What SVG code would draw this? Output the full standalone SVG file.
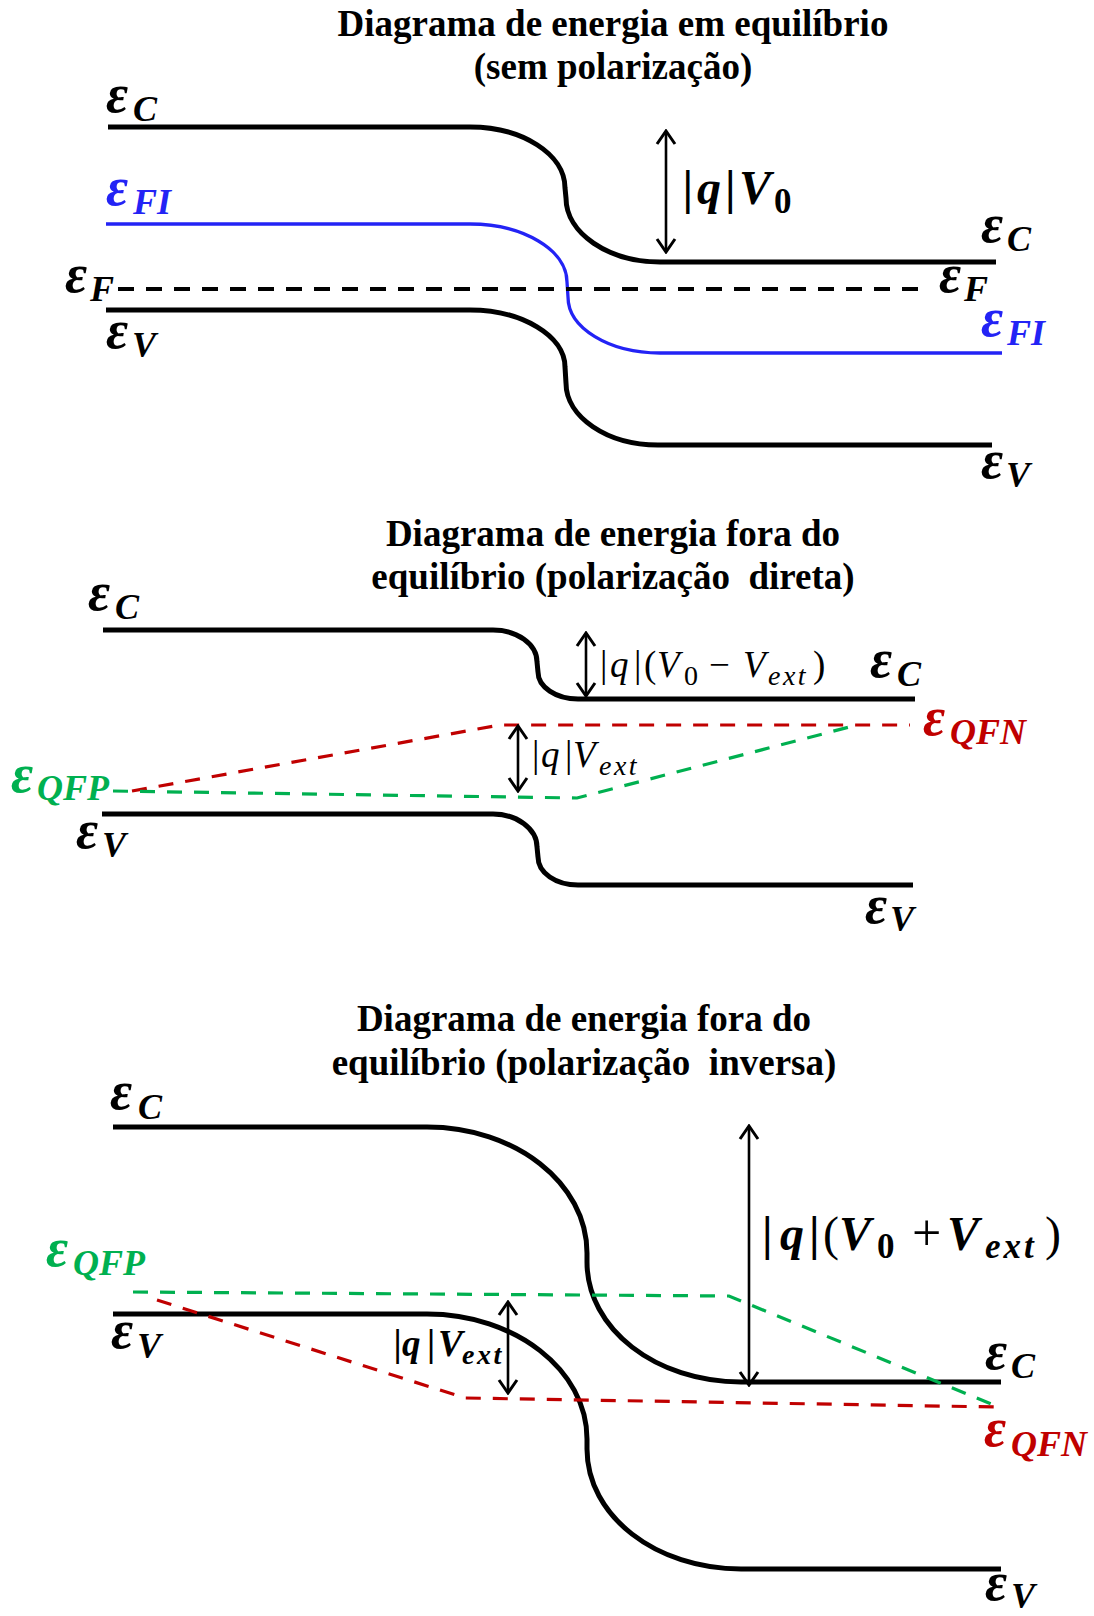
<svg xmlns="http://www.w3.org/2000/svg" width="1094" height="1616" viewBox="0 0 1094 1616">
<style>
.title{font-family:"Liberation Serif","Times New Roman",serif;font-weight:bold;font-size:37px;text-anchor:middle;fill:#000;white-space:pre}
.lab{font-family:"Liberation Serif","Times New Roman",serif;font-weight:bold;font-style:italic;font-size:54px;fill:#000}
.sub{font-size:36px}
.m{font-family:"Liberation Serif","Times New Roman",serif;font-style:italic;fill:#000}
.b{font-weight:bold}
.up{font-style:normal}
.rg{font-weight:normal}
.band{fill:none;stroke:#000;stroke-width:5}
.fi{fill:none;stroke:#2323f5;stroke-width:3.3}
.ef{fill:none;stroke:#000;stroke-width:4;stroke-dasharray:16 12}
.qfn{fill:none;stroke:#c00000;stroke-width:3.2;stroke-dasharray:15 12}
.qfp{fill:none;stroke:#00b050;stroke-width:3.2;stroke-dasharray:15 12}
.arr{fill:none;stroke:#000;stroke-width:2.6;marker-start:url(#ah);marker-end:url(#ah)}
.blue{fill:#2323f5}
.red{fill:#c00000}
.green{fill:#00b050}
</style>
<defs>
<marker id="ah" viewBox="-16 -11 18 22" markerWidth="18" markerHeight="22" refX="0" refY="0" orient="auto-start-reverse" markerUnits="userSpaceOnUse">
<path d="M-13,-9 L0,0 L-13,9" fill="none" stroke="#000" stroke-width="3" stroke-linejoin="miter"/>
</marker>
</defs>

<g id="panel1">
<g id="title1">
<text class="title" x="613" y="36">Diagrama de energia em equilíbrio</text>
<text class="title" x="613" y="79">(sem polarização)</text>
</g>
<g id="bands1">
<path id="ec1" class="band" d="M108,127 H470 C522,127 565,154 565,188 L566,198 C566,233 608,262 660,262 H996"/>
<path id="efi1" class="fi" d="M106,224 H470 C523,224 567,250 567,282 L568,297 C568,328 609,353 660,353 H1002"/>
<path id="ef1" class="ef" d="M118,289 H929"/>
<path id="ev1" class="band" d="M106,310 H470 C522,310 565,336 565,367 L566,383 C566,417 607,445 658,445 H992"/>
<path id="arr1" class="arr" d="M666,131 V252"/>
</g>
<g id="labels1">
<text class="lab" x="106" y="112">ε<tspan class="sub" x="133" y="121">C</tspan></text>
<text class="lab blue" x="106" y="205">ε<tspan class="sub" x="133" y="214">FI</tspan></text>
<text class="lab" x="65" y="292">ε<tspan class="sub" x="90" y="301">F</tspan></text>
<text class="lab" x="106" y="348">ε<tspan class="sub" x="132" y="357">V</tspan></text>
<text class="lab" x="981" y="242">ε<tspan class="sub" x="1007" y="251">C</tspan></text>
<text class="lab" x="939" y="292">ε<tspan class="sub" x="964" y="301">F</tspan></text>
<text class="lab blue" x="981" y="336">ε<tspan class="sub" x="1007" y="345">FI</tspan></text>
<text class="lab" x="981" y="478">ε<tspan class="sub" x="1006" y="487">V</tspan></text>
<text class="m b" font-size="48"><tspan class="up" x="682.5" y="204">|</tspan><tspan x="697" y="204">q</tspan><tspan class="up" x="725" y="204">|</tspan><tspan x="739" y="204">V</tspan><tspan class="up" x="774" y="213" font-size="35">0</tspan></text>
</g>
</g>

<g id="panel2">
<g id="title2">
<text class="title" x="613" y="546">Diagrama de energia fora do</text>
<text class="title" x="613" y="589" xml:space="preserve">equilíbrio (polarização  direta)</text>
</g>
<g id="bands2">
<path id="ec2" class="band" d="M103,630 H493 C517,630 537,644 537,662 L538,672 C538,687 556,699 578,699 H915"/>
<path id="ev2" class="band" d="M102,814 H493 C517,814 537,829 537,847 L538,857 C538,873 556,885 578,885 H913"/>
<path id="qfn2" class="qfn" d="M132,791 L500,725 H910"/>
<path id="qfp2" class="qfp" d="M113,791 L577,798 L857,725"/>
<path id="arr2a" class="arr" d="M586,633 V696"/>
<path id="arr2b" class="arr" d="M518,726 V791"/>
</g>
<g id="labels2">
<text class="lab" x="88" y="610">ε<tspan class="sub" x="115" y="619">C</tspan></text>
<text class="lab green" x="11" y="792">ε<tspan class="sub" x="37" y="800">QFP</tspan></text>
<text class="lab" x="76" y="848">ε<tspan class="sub" x="102" y="857">V</tspan></text>
<text class="lab" x="870" y="677">ε<tspan class="sub" x="897" y="686">C</tspan></text>
<text class="lab red" x="923" y="735">ε<tspan class="sub" x="950" y="744">QFN</tspan></text>
<text class="lab" x="865" y="923">ε<tspan class="sub" x="890" y="931">V</tspan></text>
<text class="m" font-size="37"><tspan class="up" x="600" y="677">|</tspan><tspan x="610" y="677">q</tspan><tspan class="up" x="634" y="677">|</tspan><tspan class="up" x="644" y="677">(</tspan><tspan x="657" y="677">V</tspan><tspan class="up" x="684" y="685" font-size="28">0</tspan><tspan class="up" x="709" y="677">−</tspan><tspan x="743" y="677">V</tspan><tspan x="768" y="685" font-size="28" style="letter-spacing:2.5px">ext</tspan><tspan class="up" x="813" y="677">)</tspan></text>
<text class="m" font-size="37"><tspan class="up" x="532" y="767">|</tspan><tspan x="541" y="767">q</tspan><tspan class="up" x="565" y="767">|</tspan><tspan x="573" y="767">V</tspan><tspan x="599" y="775" font-size="28" style="letter-spacing:2.5px">ext</tspan></text>
</g>
</g>

<g id="panel3">
<g id="title3">
<text class="title" x="584" y="1031">Diagrama de energia fora do</text>
<text class="title" x="584" y="1075" xml:space="preserve">equilíbrio (polarização  inversa)</text>
</g>
<g id="bands3">
<path id="ec3" class="band" d="M113,1127 H427 C515,1127 587,1183 587,1253 L587,1262 C587,1329 656,1382 741,1382 H1001"/>
<path id="ev3" class="band" d="M113,1314 H427 C515,1314 587,1370 587,1439 L587,1449 C587,1516 656,1569 741,1569 H1001"/>
<path id="qfp3" class="qfp" d="M133,1292 L729,1296 L996,1406"/>
<path id="qfn3" class="qfn" d="M157,1300 L465,1398 L996,1407"/>
<path id="arr3a" class="arr" d="M749,1126 V1385"/>
<path id="arr3b" class="arr" d="M508,1302 V1393"/>
</g>
<g id="labels3">
<text class="lab" x="110" y="1109">ε<tspan class="sub" x="138" y="1119">C</tspan></text>
<text class="lab green" x="46" y="1266">ε<tspan class="sub" x="73" y="1275">QFP</tspan></text>
<text class="lab" x="111" y="1348">ε<tspan class="sub" x="137" y="1358">V</tspan></text>
<text class="lab" x="985" y="1369">ε<tspan class="sub" x="1011" y="1378">C</tspan></text>
<text class="lab red" x="984" y="1446">ε<tspan class="sub" x="1011" y="1456">QFN</tspan></text>
<text class="lab" x="985" y="1600">ε<tspan class="sub" x="1011" y="1608">V</tspan></text>
<text class="m b" font-size="48"><tspan class="up" x="762" y="1250">|</tspan><tspan x="780" y="1250">q</tspan><tspan class="up" x="809" y="1250">|</tspan><tspan class="up rg" x="823" y="1250">(</tspan><tspan x="839" y="1250">V</tspan><tspan class="up" x="877" y="1258" font-size="35">0</tspan><tspan class="up rg" x="912" y="1250" font-size="52">+</tspan><tspan x="947" y="1250">V</tspan><tspan x="985" y="1258" font-size="35" style="letter-spacing:3px">ext</tspan><tspan class="up rg" x="1045" y="1250">)</tspan></text>
<text class="m b" font-size="37"><tspan class="up" x="393.5" y="1356">|</tspan><tspan x="402" y="1356">q</tspan><tspan class="up" x="427" y="1356">|</tspan><tspan x="438" y="1356">V</tspan><tspan x="462" y="1364" font-size="28" style="letter-spacing:2.5px">ext</tspan></text>
</g>
</g>
</svg>
